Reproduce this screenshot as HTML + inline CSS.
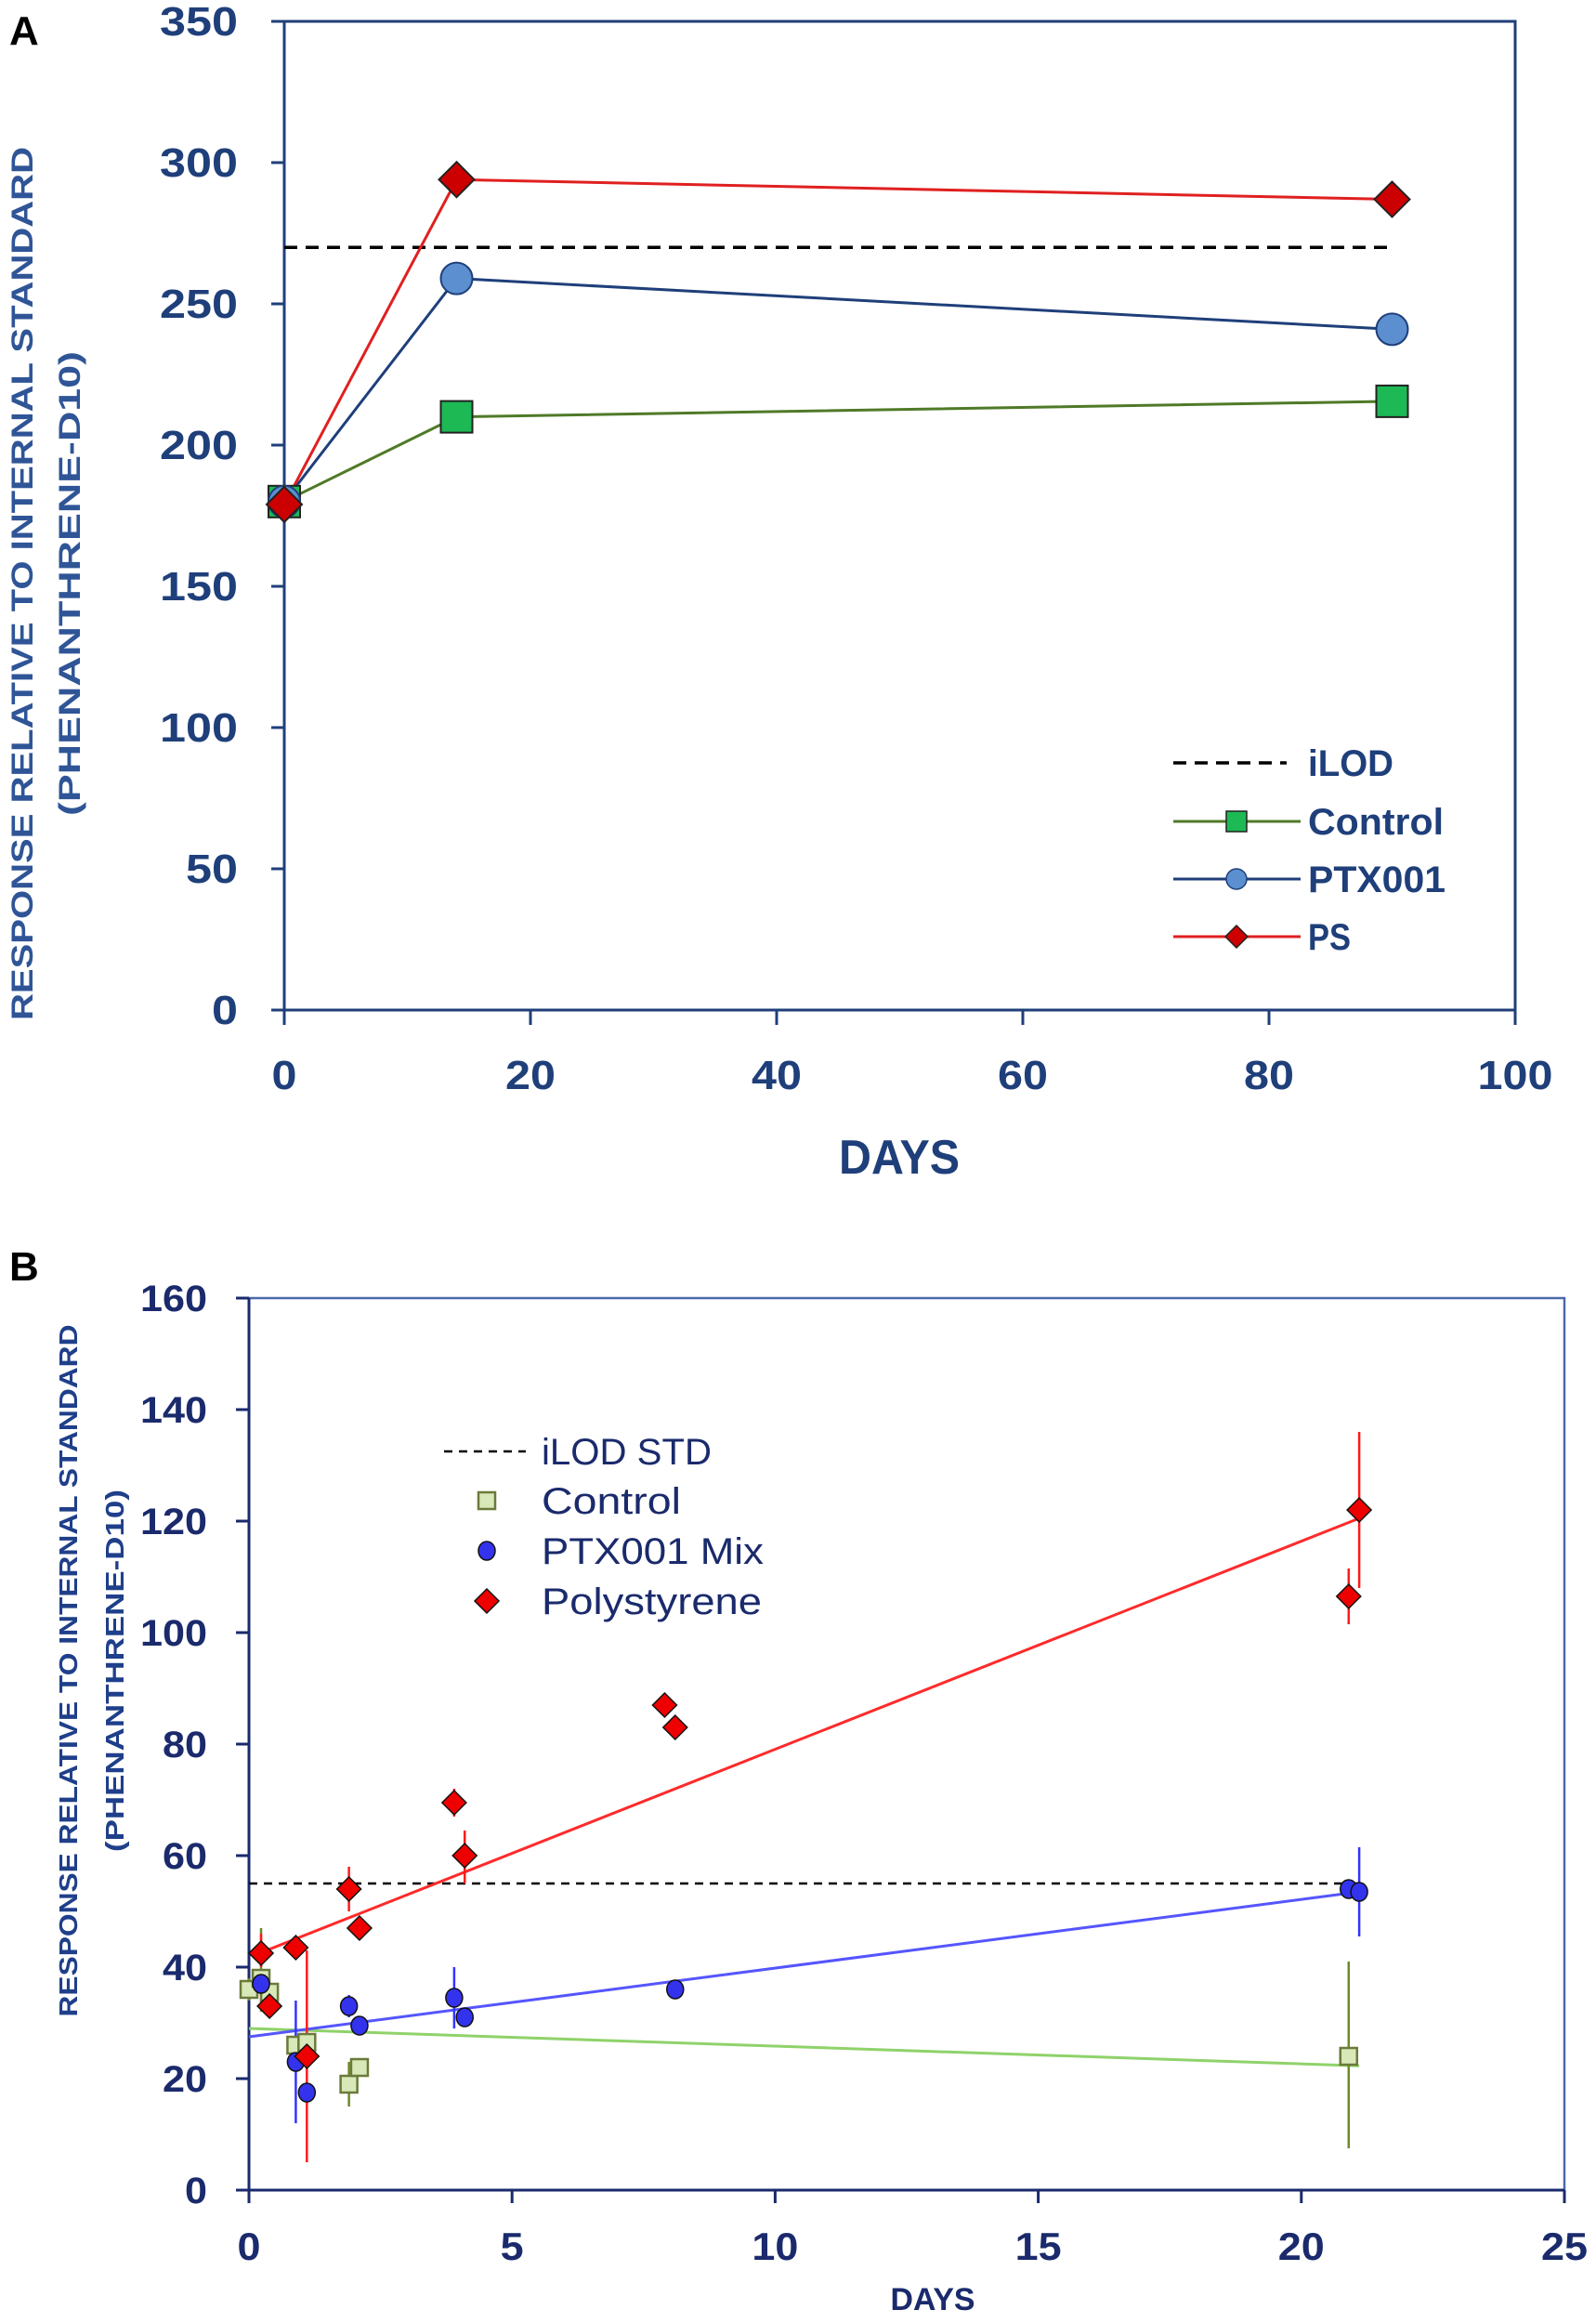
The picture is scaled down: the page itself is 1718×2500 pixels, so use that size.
<!DOCTYPE html>
<html><head><meta charset="utf-8"><style>
html,body{margin:0;padding:0;background:#fff;}
svg{display:block;font-family:"Liberation Sans",sans-serif;}
</style></head><body>
<svg width="1718" height="2500" viewBox="0 0 1718 2500">
<g id="chartA"></g>
<g id="chartB"></g>
</svg>
<script>
// ---------- Chart A data ----------
const aDays = [0, 14, 90];
const aControl = [180, 210, 215.5];
const aPTX = [180, 259, 241];
const aPS = [179, 294, 287];
const aILOD = 270;
const aXTicks = [0, 20, 40, 60, 80, 100];
const aYTicks = [0, 50, 100, 150, 200, 250, 300, 350];

// ---------- Chart B data ----------
const bPSx = [0.23, 0.39, 0.89, 1.1, 1.9, 2.1, 3.9, 4.1, 7.9, 8.1, 20.9, 21.1];
const bPSy = [42.5, 33, 43.5, 24, 54, 47, 69.5, 60, 87, 83, 106.5, 122];
const bPSlo = [40, 31, 42, 5, 50, 45, 67, 55, 85, 81, 101.5, 108];
const bPShi = [46, 35, 45, 43, 58, 49, 72, 64.5, 89, 85, 111.5, 136];
const bPTXx = [0.23, 0.89, 1.1, 1.9, 2.1, 3.9, 4.1, 8.1, 20.9, 21.1];
const bPTXy = [37, 23, 17.5, 33, 29.5, 34.5, 31, 36, 54, 53.5];
const bPTXlo = [35, 12, 16, 31, 28, 29, 29.5, 34.5, 53, 45.5];
const bPTXhi = [39, 34, 19, 35, 31, 40, 32.5, 37.5, 55, 61.5];
const bCx = [0, 0.23, 0.39, 0.89, 1.1, 1.9, 2.1, 20.9];
const bCy = [36, 38, 35.5, 26, 26.5, 19, 22, 24];
const bClo = [34, 32, 31, 24, 25, 15, 20.5, 7.5];
const bChi = [38, 47, 37, 28, 28, 23, 23.5, 41];
const bFitPS = [[0.2, 42.5], [21.1, 120.5]];
const bFitPTX = [[0, 27.5], [21.1, 53.5]];
const bFitC = [[0, 29], [21.1, 22.3]];
const bILOD = 55;
const bXTicks = [0, 5, 10, 15, 20, 25];
const bYTicks = [0, 20, 40, 60, 80, 100, 120, 140, 160];

const NS = "http://www.w3.org/2000/svg";
function mk(parent, tag, attrs, text) {
  const e = document.createElementNS(NS, tag);
  for (const k in attrs) e.setAttribute(k, attrs[k]);
  if (text !== undefined) e.textContent = text;
  parent.appendChild(e);
  return e;
}
function diamond(cx, cy, r) { return `${cx},${cy-r} ${cx+r},${cy} ${cx},${cy+r} ${cx-r},${cy}`; }

// ================= Chart A =================
(function(){
  const g = document.getElementById('chartA');
  const X0=306, X1=1631, Y0=1087, Y1=23;
  const sx = v => X0 + (v/100)*(X1-X0);
  const sy = v => Y0 - (v/350)*(Y0-Y1);
  const axc = "#1f3f7a";
  let t = mk(g,'text',{x:10,y:48,'font-size':44,'font-weight':'bold',fill:'#000'},'A');
   
  let fr = mk(g,'rect',{x:X0,y:Y1,width:X1-X0,height:Y0-Y1,fill:'none',stroke:axc,'stroke-width':3});
   
  aYTicks.forEach(v=>{
    const y=sy(v);
    const tk=mk(g,'line',{x1:X0-14,x2:X0,y1:y,y2:y,stroke:axc,'stroke-width':3});
     
    const l=mk(g,'text',{x:256,y:y+15,'text-anchor':'end','font-size':44,'font-weight':'bold',fill:axc,'textLength':String(v).length*28,'lengthAdjust':'spacingAndGlyphs'},v);
     
  });
  aXTicks.forEach(v=>{
    const x=sx(v);
    const tk=mk(g,'line',{x1:x,x2:x,y1:Y0,y2:Y0+16,stroke:axc,'stroke-width':3});
     
    const l=mk(g,'text',{x:x,y:1172,'text-anchor':'middle','font-size':44,'font-weight':'bold',fill:axc,'textLength':String(v).length*27,'lengthAdjust':'spacingAndGlyphs'},v);
     
  });
  t=mk(g,'text',{x:968,y:1263,'text-anchor':'middle','font-size':52,'font-weight':'bold',fill:axc,'textLength':130,'lengthAdjust':'spacingAndGlyphs'},'DAYS');
   
  t=mk(g,'text',{transform:'translate(35,628) rotate(-90)','text-anchor':'middle','font-size':32,'font-weight':'bold',fill:'#2f5597','textLength':940,'lengthAdjust':'spacingAndGlyphs'},'RESPONSE RELATIVE TO INTERNAL STANDARD');
   
  t=mk(g,'text',{transform:'translate(86,628) rotate(-90)','text-anchor':'middle','font-size':32,'font-weight':'bold',fill:'#2f5597','textLength':500,'lengthAdjust':'spacingAndGlyphs'},'(PHENANTHRENE-D10)');
   
  let d=mk(g,'line',{x1:sx(0),x2:sx(90),y1:sy(aILOD),y2:sy(aILOD),stroke:'#000','stroke-width':3.5,'stroke-dasharray':'14,9'});
   
  const series=[
    {name:'control',ys:aControl,line:'#4f7a28',fill:'#1db954',shape:'sq'},
    {name:'ptx001',ys:aPTX,line:'#1f3f7a',fill:'#5b8fd0',shape:'ci'},
    {name:'ps',ys:aPS,line:'#e02020',fill:'#cc0000',shape:'di'}];
  series.forEach(s=>{
    const pl=mk(g,'polyline',{points:aDays.map((x,i)=>sx(x)+','+sy(s.ys[i])).join(' '),fill:'none',stroke:s.line,'stroke-width':3});
     
  });
  series.forEach(s=>{
    aDays.forEach((x,i)=>{
      const cx=sx(x), cy=sy(s.ys[i]); let m;
      if(s.shape==='sq') m=mk(g,'rect',{x:cx-17,y:cy-17,width:34,height:34,fill:s.fill,stroke:'#222','stroke-width':2});
      else if(s.shape==='ci') m=mk(g,'circle',{cx:cx,cy:cy,r:17,fill:s.fill,stroke:'#1f3f7a','stroke-width':2});
      else m=mk(g,'polygon',{points:diamond(cx,cy,19),fill:s.fill,stroke:'#222','stroke-width':2});
       
    });
  });
  const lg=mk(g,'g',{});
   
  const rows=[{n:'iLOD',y:821,w:92},{n:'Control',y:884,w:146},{n:'PTX001',y:946,w:148},{n:'PS',y:1008,w:46}];
  rows.forEach((r,i)=>{
    const e=mk(lg,'g',{});
     
    if(i===0) mk(e,'line',{x1:1263,x2:1385,y1:r.y,y2:r.y,stroke:'#000','stroke-width':3.5,'stroke-dasharray':'14,9'});
    else {
      const s=series[i-1];
      mk(e,'line',{x1:1263,x2:1400,y1:r.y,y2:r.y,stroke:s.line,'stroke-width':3});
      const cx=1331;
      if(s.shape==='sq') mk(e,'rect',{x:cx-11,y:r.y-11,width:22,height:22,fill:s.fill,stroke:'#222','stroke-width':1.5});
      else if(s.shape==='ci') mk(e,'circle',{cx:cx,cy:r.y,r:11,fill:s.fill,stroke:'#1f3f7a','stroke-width':1.5});
      else mk(e,'polygon',{points:diamond(cx,r.y,12),fill:s.fill,stroke:'#222','stroke-width':1.5});
    }
    mk(e,'text',{x:1408,y:r.y+14,'font-size':40,'font-weight':'bold',fill:axc,'textLength':r.w,'lengthAdjust':'spacingAndGlyphs'},r.n);
  });
})();

// ================= Chart B =================
(function(){
  const g = document.getElementById('chartB');
  const X0=268, X1=1684, Y0=2357, Y1=1397;
  const sx = v => X0 + (v/25)*(X1-X0);
  const sy = v => Y0 - (v/160)*(Y0-Y1);
  const axc="#1a2a6c", frc="#4a6aa8";
  let t=mk(g,'text',{x:10,y:1378,'font-size':44,'font-weight':'bold',fill:'#000'},'B');
   
  let fr=mk(g,'rect',{x:X0,y:Y1,width:X1-X0,height:Y0-Y1,fill:'none',stroke:frc,'stroke-width':2.5});
   
  mk(g,'line',{x1:X0,x2:X0,y1:Y1,y2:Y0,stroke:axc,'stroke-width':3});
  mk(g,'line',{x1:X0,x2:X1,y1:Y0,y2:Y0,stroke:axc,'stroke-width':3});
  bYTicks.forEach(v=>{
    const y=sy(v);
    const tk=mk(g,'line',{x1:X0-14,x2:X0,y1:y,y2:y,stroke:axc,'stroke-width':3});
     
    const l=mk(g,'text',{x:223,y:y+14,'text-anchor':'end','font-size':40,'font-weight':'bold',fill:axc,'textLength':String(v).length*24,'lengthAdjust':'spacingAndGlyphs'},v);
     
  });
  bXTicks.forEach(v=>{
    const x=sx(v);
    const tk=mk(g,'line',{x1:x,x2:x,y1:Y0,y2:Y0+14,stroke:axc,'stroke-width':3});
     
    const l=mk(g,'text',{x:x,y:2432,'text-anchor':'middle','font-size':42,'font-weight':'bold',fill:axc,'textLength':String(v).length*25,'lengthAdjust':'spacingAndGlyphs'},v);
     
  });
  t=mk(g,'text',{x:1004,y:2486,'text-anchor':'middle','font-size':34,'font-weight':'bold',fill:axc,'textLength':91,'lengthAdjust':'spacingAndGlyphs'},'DAYS');
   
  t=mk(g,'text',{transform:'translate(83,1798) rotate(-90)','text-anchor':'middle','font-size':28,'font-weight':'bold',fill:'#1f3f8a','textLength':745,'lengthAdjust':'spacingAndGlyphs'},'RESPONSE RELATIVE TO INTERNAL STANDARD');
   
  t=mk(g,'text',{transform:'translate(133,1798) rotate(-90)','text-anchor':'middle','font-size':28,'font-weight':'bold',fill:'#1f3f8a','textLength':390,'lengthAdjust':'spacingAndGlyphs'},'(PHENANTHRENE-D10)');
   
  let d=mk(g,'line',{x1:sx(0),x2:sx(21.1),y1:sy(bILOD),y2:sy(bILOD),stroke:'#000','stroke-width':2.5,'stroke-dasharray':'9,7'});
   
  const fits=[{n:'control-fit',p:bFitC,c:'#8fd26a'},{n:'ptx001-fit',p:bFitPTX,c:'#5555ff'},{n:'polystyrene-fit',p:bFitPS,c:'#ff2a2a'}];
  fits.forEach(f=>{
    const l=mk(g,'line',{x1:sx(f.p[0][0]),y1:sy(f.p[0][1]),x2:sx(f.p[1][0]),y2:sy(f.p[1][1]),stroke:f.c,'stroke-width':3});
     
  });
  const sets=[
    {n:'control',xs:bCx,ys:bCy,lo:bClo,hi:bChi,ec:'#6b8a2a',shape:'sq'},
    {n:'ptx001',xs:bPTXx,ys:bPTXy,lo:bPTXlo,hi:bPTXhi,ec:'#3333ff',shape:'ci'},
    {n:'polystyrene',xs:bPSx,ys:bPSy,lo:bPSlo,hi:bPShi,ec:'#ff1a1a',shape:'di'}];
  sets.forEach(s=>{
    s.xs.forEach((x,i)=>{
      const e=mk(g,'line',{x1:sx(x),x2:sx(x),y1:sy(s.lo[i]),y2:sy(s.hi[i]),stroke:s.ec,'stroke-width':2.5});
       
    });
  });
  function marker(par,shape,cx,cy){
    if(shape==='sq') return mk(par,'rect',{x:cx-9,y:cy-9,width:18,height:18,fill:'#d8e8b8',stroke:'#6b7a3a','stroke-width':2.5});
    if(shape==='ci') return mk(par,'ellipse',{cx:cx,cy:cy,rx:9,ry:10,fill:'#3333ee',stroke:'#111','stroke-width':1.5});
    return mk(par,'polygon',{points:diamond(cx,cy,13),fill:'#ee0000',stroke:'#111','stroke-width':1.5});
  }
  sets.forEach(s=>{
    s.xs.forEach((x,i)=>{
      const m=marker(g,s.shape,sx(x),sy(s.ys[i]));
       
    });
  });
  const lg=mk(g,'g',{});
   
  const rows=[{n:'iLOD STD',y:1562,w:183},{n:'Control',y:1615,s:'sq',w:150},{n:'PTX001 Mix',y:1669,s:'ci',w:239},{n:'Polystyrene',y:1723,s:'di',w:237}];
  rows.forEach(r=>{
    const e=mk(lg,'g',{});
     
    if(!r.s) mk(e,'line',{x1:478,x2:566,y1:r.y,y2:r.y,stroke:'#000','stroke-width':2.5,'stroke-dasharray':'9,7'});
    else marker(e,r.s,524,r.y);
    mk(e,'text',{x:583,y:r.y+14,'font-size':40,fill:axc,'textLength':r.w,'lengthAdjust':'spacingAndGlyphs'},r.n);
  });
})();
</script>
</body></html>
